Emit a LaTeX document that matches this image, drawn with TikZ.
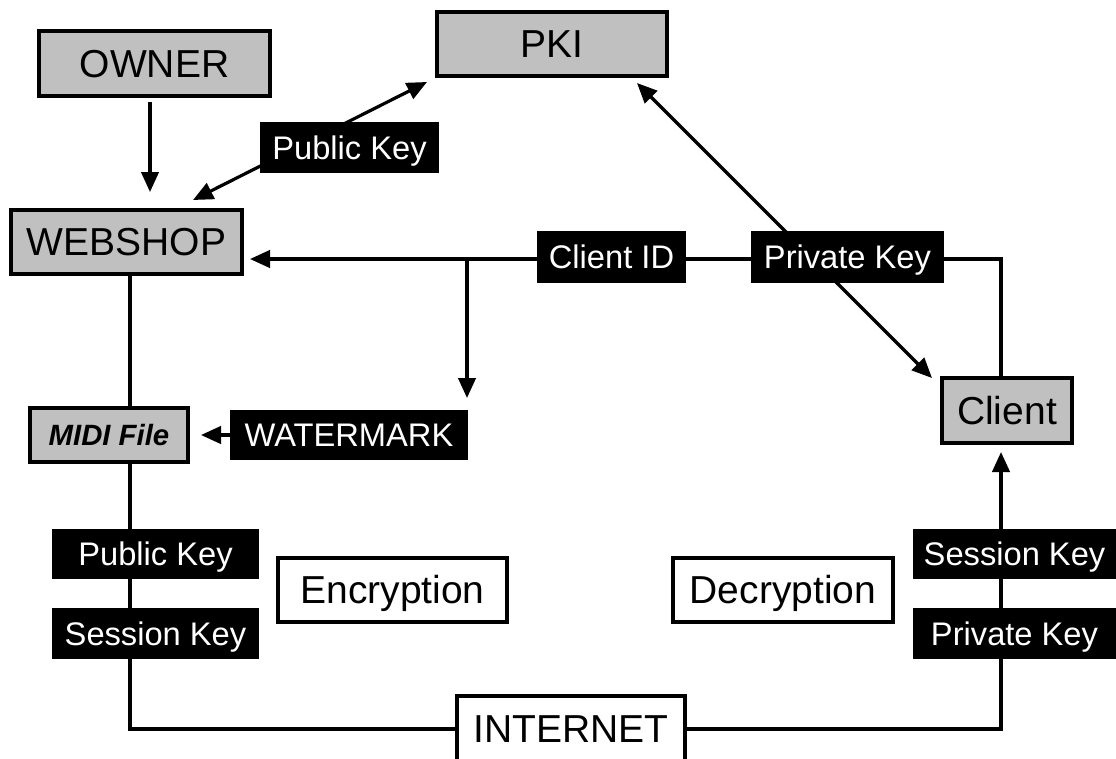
\documentclass[tikz,border=0pt]{standalone}
\usepackage{fontspec}
\setmainfont{Liberation Sans}
\usetikzlibrary{arrows.meta}
\definecolor{boxgray}{HTML}{C0C0C0}
\pgfdeclarelayer{bg}
\pgfsetlayers{bg,main}
\begin{document}
\begin{tikzpicture}[x=0.75pt,y=-0.75pt,
 sz/.style 2 args={minimum width=#1*0.75pt, minimum height=#2*0.75pt},
 basebox/.style={inner sep=0pt, outer sep=0pt, text depth=0pt},
 graybox/.style={basebox, draw=black, line width=2.4pt, fill=boxgray, text height=20.9pt, font=\fontsize{29.25pt}{32pt}\selectfont},
 whitebox/.style={basebox, draw=black, line width=2.4pt, fill=white, text height=20.9pt, font=\fontsize{29.25pt}{32pt}\selectfont},
 blackbox/.style={basebox, fill=black, text=white, text height=17.5pt, font=\fontsize{24.5pt}{27pt}\selectfont},
 conn/.style={line width=2.4pt},
 arr/.style={conn, -{Triangle[length=15pt,width=13pt]}},
 arrs/.style={conn, {Triangle[length=15pt,width=13pt]}-{Triangle[length=15pt,width=13pt]}},
]
\useasboundingbox (0,0) rectangle (1116,758);
\clip (0,0) rectangle (1116,758);

% main boxes
\node[graybox, sz={231}{65}] (owner) at (154.5,63.5) {OWNER};
\node[graybox, sz={230}{64}] (pki) at (552,44) {PKI};
\node[graybox, sz={231}{64}] (webshop) at (126.5,242) {WEBSHOP};
\node[graybox, sz={130}{65}] (client) at (1007,410.5) {Client};
\node[graybox, sz={158}{54}, text height=15.75pt, font=\fontsize{22pt}{24pt}\selectfont\bfseries\itshape] (midi) at (109,435) {MIDI File};
\node[whitebox, sz={229}{64}] (enc) at (392.5,590) {Encryption};
\node[whitebox, sz={220}{64}] (dec) at (783,590) {Decryption};
\node[whitebox, sz={228}{66}] (inet) at (571,729) {INTERNET};

% black labels
\node[blackbox, sz={179}{51}] (pkw) at (349.5,147.5) {Public Key};
\node[blackbox, sz={149}{52}] (cid) at (611.5,257) {Client ID};
\node[blackbox, sz={193}{52}] (prk) at (847.5,257) {Private Key};
\node[blackbox, sz={238}{50}] (wm) at (349,435) {WATERMARK};
\node[blackbox, sz={207}{50}] (pke) at (155.5,554) {Public Key};
\node[blackbox, sz={207}{51}] (ske) at (155.5,633.5) {Session Key};
\node[blackbox, sz={203}{50}] (skd) at (1014.5,554) {Session Key};
\node[blackbox, sz={203}{51}] (prd) at (1014.5,633.5) {Private Key};

% helper coordinates
\coordinate (xo) at (150,0);
\coordinate (xl) at (130,0);
\coordinate (xr) at (1001,0);
\coordinate (xb) at (467,0);
\coordinate (yh) at (0,259);
\coordinate (w1) at (193,200);
\coordinate (p1) at (427,82);
\coordinate (p2) at (637,83);
\coordinate (c2) at (932,378);

\begin{pgfonlayer}{bg}
\draw[arr, shorten <=4.5pt, shorten >=13.5pt] (owner.south -| xo) -- (webshop.north -| xo);
\draw[arrs] (w1) -- (p1);
\draw[arrs] (p2) -- (c2);
\draw[arr, shorten >=6pt] (client.north -| xr) |- (webshop.east |- yh);
\draw[arr, shorten >=9pt] (xb |- yh) -- (wm.north -| xb);
\draw[arr, shorten >=9.75pt] (wm.west) -- (midi.east);
\draw[conn] (webshop.south -| xl) -- (midi.north -| xl);
\draw[conn] (midi.south -| xl) |- (inet.west);
\draw[arr, shorten >=6.75pt] (inet.east) -| (client.south -| xr);
\end{pgfonlayer}
\end{tikzpicture}
\end{document}
